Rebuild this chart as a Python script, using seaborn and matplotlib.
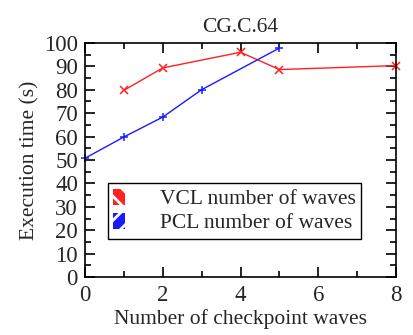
import matplotlib
matplotlib.use("Agg")
import matplotlib.pyplot as plt
import seaborn as sns
import pandas as pd
from matplotlib.patches import Patch
from matplotlib.ticker import MultipleLocator

vcl_x = [1, 2, 4, 5, 8]
vcl_y = [79.7, 89.3, 96.0, 88.6, 90.3]
pcl_x = [0, 1, 2, 3, 5]
pcl_y = [50.7, 59.8, 68.3, 80.0, 97.8]
series = ["VCL number of waves", "PCL number of waves"]
title = "CG.C.64"

sns.set_style("ticks")
plt.rcParams['font.family'] = ['Liberation Serif', 'DejaVu Serif']
plt.rcParams['hatch.linewidth'] = 2.0

colors = {series[0]: "#ff2020", series[1]: "#1a1aff"}
fig = plt.figure(figsize=(4.14, 3.35), dpi=100)
ax = fig.add_axes([0.205, 0.173, 0.752, 0.699])

for xs, ys, name, mk in [(vcl_x, vcl_y, series[0], "x"), (pcl_x, pcl_y, series[1], "+")]:
    d = pd.DataFrame({"x": xs, "y": ys})
    sns.lineplot(data=d, x="x", y="y", ax=ax, color=colors[name], linewidth=1.0,
                 marker=mk, markersize=6, markeredgewidth=1.1,
                 markeredgecolor=colors[name], markerfacecolor=colors[name], clip_on=False)

ax.set_xlim(0, 8)
ax.set_ylim(0, 100)
ax.xaxis.set_major_locator(MultipleLocator(2))
ax.xaxis.set_minor_locator(MultipleLocator(1))
ax.yaxis.set_major_locator(MultipleLocator(10))
ax.yaxis.set_minor_locator(MultipleLocator(5))
ax.tick_params(which="both", direction="in", top=True, right=True, labelsize=16.5, color="black", width=1.2)
ax.tick_params(which="major", length=7)
ax.tick_params(which="minor", length=4)
ax.tick_params(axis="x", pad=6)
ax.tick_params(axis="y", pad=5)
for sp in ax.spines.values():
    sp.set_linewidth(1.2)
    sp.set_color("black")

ax.set_xlabel("Number of checkpoint waves", fontsize=15.5, labelpad=2)
ax.set_ylabel("Execution time (s)", fontsize=15.5, labelpad=3)
ax.set_title(title, fontsize=15.5, pad=8)

handles = [Patch(facecolor=colors[series[0]], edgecolor="white", hatch="\\\\", linewidth=0),
           Patch(facecolor=colors[series[1]], edgecolor="white", hatch="//", linewidth=0)]
leg = ax.legend(handles, series, loc="upper left", bbox_to_anchor=(0.074, 0.40), fontsize=15.5,
                frameon=True, fancybox=False, edgecolor="black", framealpha=1,
                handlelength=0.55, handleheight=0.8, handletextpad=1.6, borderpad=0.25, labelspacing=0.15,
                borderaxespad=0)
leg.get_frame().set_linewidth(1.0)

fig.savefig("out.png", dpi=100)
